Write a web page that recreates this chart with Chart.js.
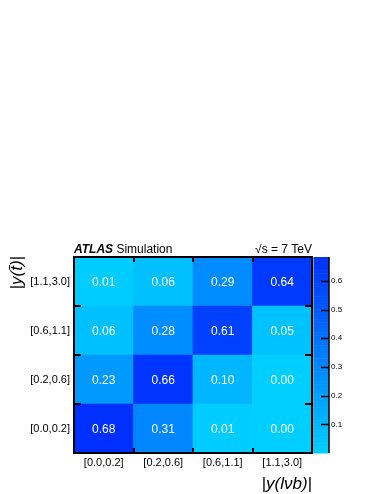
<!DOCTYPE html>
<html>
<head>
<meta charset="utf-8">
<script src="https://cdn.jsdelivr.net/npm/chart.js@4.4.0/dist/chart.umd.min.js"></script>
<style>
  html, body { margin: 0; padding: 0; background: #fff; }
  canvas { display: block; }
</style>
</head>
<body>
<canvas id="c" width="382" height="494"></canvas>
<script>
// bins of |y(lvb)| (columns) and |y(tbar)| (rows, bottom to top)
const xLabels = ["[0.0,0.2]", "[0.2,0.6]", "[0.6,1.1]", "[1.1,3.0]"];
const yLabels = ["[0.0,0.2]", "[0.2,0.6]", "[0.6,1.1]", "[1.1,3.0]"];

// migration matrix, one array per row (bottom row first)
const row0 = [0.68, 0.31, 0.01, 0.00];
const row1 = [0.23, 0.66, 0.10, 0.00];
const row2 = [0.06, 0.28, 0.61, 0.05];
const row3 = [0.01, 0.06, 0.29, 0.64];
const rows = [row0, row1, row2, row3];

const zMax = 0.683;
const zTicks = [0.1, 0.2, 0.3, 0.4, 0.5, 0.6];

const FONT = "'Liberation Sans', Arial, sans-serif";

function cellColor(v) {
    const g = Math.max(0, Math.min(255, Math.round(206 - 232 * v)));
    return `rgb(0,${g},255)`;
}

const datasets = rows.map((vals, r) => ({
    label: yLabels[r],
    data: vals.map(() => [r, r + 1]),
    values: vals,
    backgroundColor: vals.map(cellColor),
    borderWidth: 0,
    barPercentage: 1,
    categoryPercentage: 1,
    grouped: false,
}));

// cell numbers, frame, ticks, colour bar, titles
const decor = {
    id: "decor",
    afterDatasetsDraw(chart) {
        const ctx = chart.ctx;
        const a = chart.chartArea;
        const xs = chart.scales.x;
        const ys = chart.scales.y;
        const zs = chart.scales.z;

        ctx.save();
        ctx.fillStyle = "#fff";
        ctx.font = `12px ${FONT}`;
        ctx.textAlign = "center";
        ctx.textBaseline = "middle";
        chart.data.datasets.forEach((ds, i) => {
            chart.getDatasetMeta(i).data.forEach((el, j) => {
                ctx.fillText(ds.values[j].toFixed(2), el.x, (el.y + el.base) / 2 + 1);
            });
        });

        // frame
        ctx.strokeStyle = "#000";
        ctx.lineWidth = 2;
        ctx.strokeRect(a.left, a.top, a.right - a.left, a.bottom - a.top);

        // tick marks at bin edges
        ctx.beginPath();
        for (let k = 1; k < xLabels.length; k++) {
            const px = Math.round((xs.getPixelForValue(k - 1) + xs.getPixelForValue(k)) / 2);
            ctx.moveTo(px, a.top); ctx.lineTo(px, a.top + 5);
            ctx.moveTo(px, a.bottom); ctx.lineTo(px, a.bottom - 5);
        }
        for (let k = 1; k < yLabels.length; k++) {
            const py = Math.round(ys.getPixelForValue(k));
            ctx.moveTo(a.left, py); ctx.lineTo(a.left + 7, py);
            ctx.moveTo(a.right, py); ctx.lineTo(a.right - 7, py);
        }
        ctx.stroke();

        // colour bar
        const bl = a.right + 1, br = a.right + 17;
        const n = 60;
        for (let k = 0; k < n; k++) {
            const v0 = zMax * k / n, v1 = zMax * (k + 1) / n;
            const p0 = zs.getPixelForValue(v0), p1 = zs.getPixelForValue(v1);
            ctx.fillStyle = cellColor((v0 + v1) / 2);
            ctx.fillRect(bl, p1, br - bl, p0 - p1 + 0.5);
        }
        ctx.lineWidth = 1;
        ctx.strokeStyle = "#999";
        ctx.beginPath();
        ctx.moveTo(bl + 0.5, a.top); ctx.lineTo(bl + 0.5, a.bottom);
        ctx.stroke();
        ctx.strokeStyle = "#000";
        ctx.lineWidth = 1.5;
        ctx.beginPath();
        ctx.moveTo(br, a.top); ctx.lineTo(br, a.bottom);
        zTicks.forEach(v => {
            const py = Math.round(zs.getPixelForValue(v)) + 0.5;
            ctx.moveTo(br - 8, py); ctx.lineTo(br, py);
        });
        ctx.stroke();

        // header
        ctx.fillStyle = "#000";
        ctx.textBaseline = "alphabetic";
        ctx.textAlign = "left";
        ctx.font = `italic bold 12px ${FONT}`;
        ctx.fillText("ATLAS", a.left, a.top - 4);
        const w = ctx.measureText("ATLAS ").width;
        ctx.font = `12px ${FONT}`;
        ctx.fillText("Simulation", a.left + w, a.top - 4);
        ctx.textAlign = "right";
        ctx.fillText("\u221As = 7 TeV", a.right, a.top - 4);

        // axis titles
        ctx.font = `italic 17px ${FONT}`;
        ctx.textAlign = "right";
        ctx.fillText("|y(l\u03BDb)|", a.right, 489);
        ctx.save();
        ctx.translate(22, a.top - 1);
        ctx.rotate(-Math.PI / 2);
        ctx.fillText("|y(t\u0304)|", 0, 0);
        ctx.restore();

        ctx.restore();
    }
};

new Chart(document.getElementById("c"), {
    type: "bar",
    data: { labels: xLabels, datasets },
    options: {
        responsive: false,
        animation: false,
        layout: { padding: { top: 257, left: 0, right: 0, bottom: 0 } },
        plugins: { legend: { display: false }, tooltip: { enabled: false } },
        scales: {
            x: {
                grid: { display: false, drawTicks: false },
                border: { display: false },
                ticks: { color: "#000", font: { family: FONT, size: 11 }, padding: 3, maxRotation: 0 },
                afterFit: s => { s.height = 41; },
            },
            y: {
                min: 0, max: 4,
                grid: { display: false, drawTicks: false },
                border: { display: false },
                afterBuildTicks: s => { s.ticks = [0.5, 1.5, 2.5, 3.5].map(v => ({ value: v })); },
                ticks: {
                    color: "#000", font: { family: FONT, size: 11 }, padding: 4,
                    callback: v => yLabels[Math.floor(v)],
                },
                afterFit: s => { s.width = 74; },
            },
            z: {
                position: "right",
                min: 0, max: zMax,
                grid: { display: false, drawTicks: false },
                border: { display: false },
                afterBuildTicks: s => { s.ticks = zTicks.map(v => ({ value: v })); },
                ticks: {
                    color: "#000", font: { family: FONT, size: 8 }, padding: 19,
                    callback: v => v.toFixed(1),
                },
                afterFit: s => { s.width = 70; },
            },
        },
    },
    plugins: [decor],
});
</script>
</body>
</html>
